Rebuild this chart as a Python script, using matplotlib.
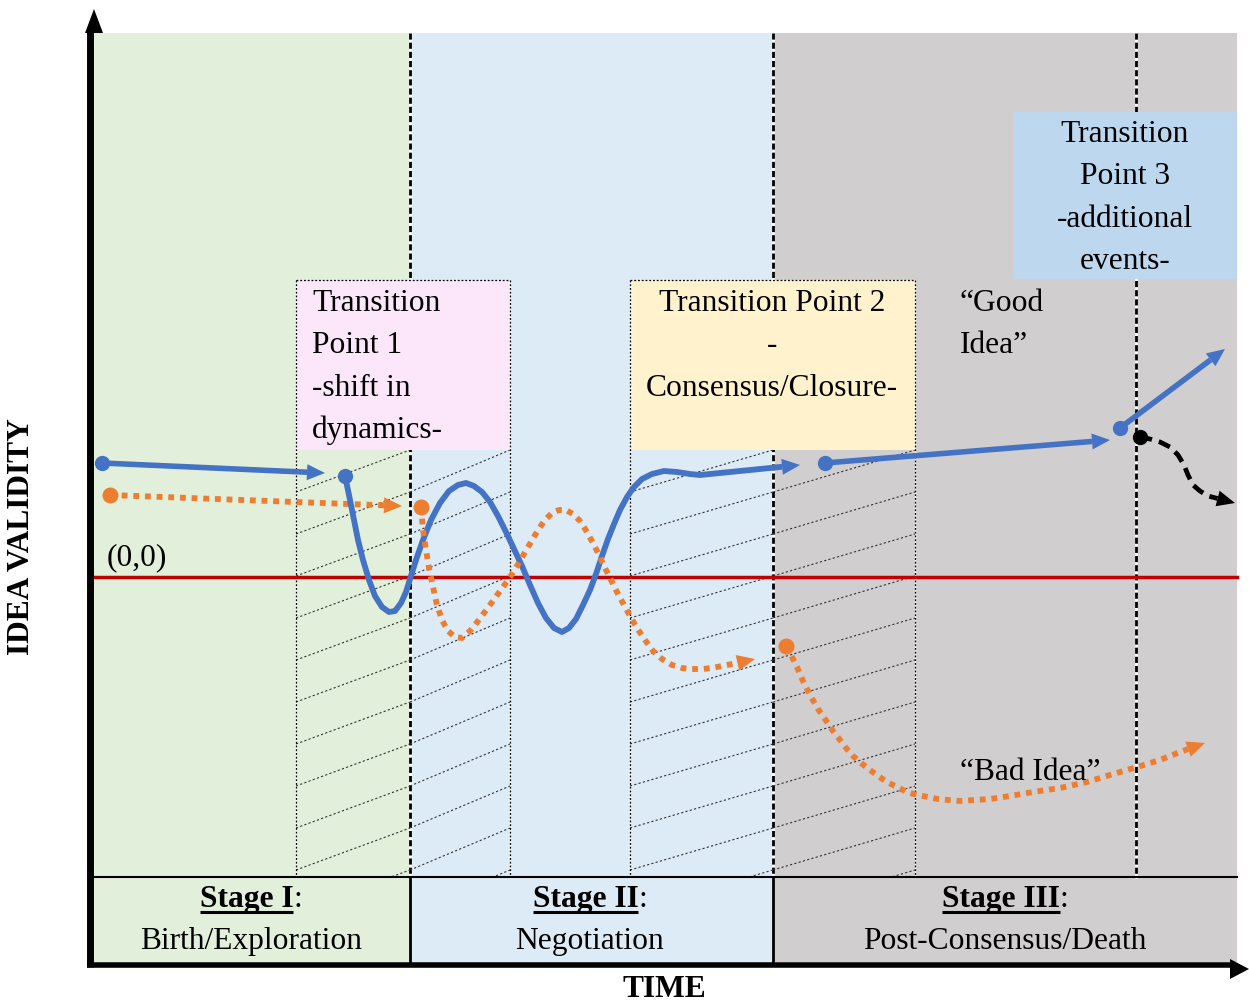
import matplotlib
matplotlib.use("Agg")
import matplotlib.pyplot as plt
from matplotlib.patches import Rectangle, Polygon
import numpy as np

# ---------------- data: (time, idea validity), origin (0,0) on the red baseline ----------------
lead_blue_t = [10, 233]
lead_blue_v = [114, 104]
lead_orange_t = [18, 310]
lead_orange_v = [82, 71]

wave_blue_t = [253, 257, 261, 266, 271, 277, 283, 290, 297, 303, 309, 314, 318, 324, 331, 339,
               348, 357, 366, 374, 382, 390, 398, 406, 414, 422, 430, 438, 446, 454, 462, 470,
               477, 484, 491, 498, 504, 510, 516, 522, 528, 535, 542, 550, 560, 572, 585, 598,
               608, 708]
wave_blue_v = [101, 82, 62, 37, 17, -3, -19, -30, -35, -34, -26, -15, -2, 17, 37, 57,
               74, 86, 92, 94, 91, 85, 75, 61, 45, 28, 11, -8, -26, -41, -51, -55,
               -51, -42, -28, -13, 3, 21, 38, 53, 67, 80, 90, 98, 103, 106, 105, 103,
               102, 112]

wave_orange_t = [329, 331, 334, 337, 341, 345, 350, 356, 363, 370, 378, 386, 395, 403, 411, 418,
                 425, 432, 439, 446, 453, 460, 467, 474, 481, 488, 495, 502, 508, 514, 520, 526,
                 532, 538, 545, 553, 561, 570, 580, 590, 600, 610, 620, 630, 640, 663]
wave_orange_v = [70, 47, 27, 9, -10, -28, -43, -54, -60, -61, -54, -44, -32, -21, -10, 0,
                 11, 23, 35, 47, 57, 64, 67, 67, 63, 56, 45, 32, 20, 7, -5, -17,
                 -28, -39, -51, -63, -74, -82, -88, -91, -92, -92, -91, -89, -87, -82]

good_t1 = [733, 1018]
good_v1 = [114, 137]
good_t2 = [1028, 1133]
good_v2 = [149, 228]

bad_t = [694, 700, 705, 711, 718, 726, 735, 741, 748, 754, 761, 769, 778, 786, 795, 805,
         815, 825, 836, 846, 856, 868, 883, 898, 918, 941, 968, 995, 1018, 1045, 1068, 1088, 1113]
bad_v = [-69, -80, -90, -104, -118, -132, -145, -154, -163, -171, -179, -186, -193, -199, -205, -210,
         -215, -218, -220, -222, -223, -224, -223, -222, -219, -215, -211, -205, -198, -190, -183, -175, -166]

extra_t = [1048, 1058, 1068, 1078, 1086, 1092, 1096, 1101, 1108, 1116, 1143]
extra_v = [140, 138, 135, 130, 122, 112, 102, 92, 86, 81, 74]

stage_titles = ["Stage I", "Stage II", "Stage III"]
stage_subs = ["Birth/Exploration", "Negotiation", "Post-Consensus/Death"]
tp1_lines = ["Transition", "Point 1", "-shift in", "dynamics-"]
tp2_lines = ["Transition Point 2", "-", "Consensus/Closure-"]
tp3_lines = ["Transition", "Point 3", "-additional", "events-"]

# ---------------- layout ----------------
W, H = 1249, 1002
OX, OY = 92, 577          # pixel position of the (0,0) origin


def X(px):
    return px - OX


def Y(py):
    return OY - py


BLUE = "#4472C4"
ORANGE = "#ED7D31"
RED = "#C00000"
FONT = "Liberation Serif"
FS = 22.7

fig = plt.figure(figsize=(W / 100, H / 100), dpi=100)
ax = fig.add_axes([0, 0, 1, 1])
ax.set_xlim(X(0), X(W))
ax.set_ylim(Y(H), Y(0))
ax.axis("off")


def rect(x0, y0, x1, y1, color, z, **kw):
    ax.add_patch(Rectangle((X(x0), Y(y1)), x1 - x0, y1 - y0, fc=color, ec="none", zorder=z, **kw))


# backgrounds
rect(92, 33, 410, 962, "#E2EFDA", 0)
rect(410, 33, 773, 962, "#DDEBF7", 0)
rect(773, 33, 1237, 962, "#D0CECE", 0)

# thick dashed stage dividers
for px in [410, 773, 1136]:
    ax.plot([X(px), X(px)], [Y(33), Y(877)], color="white", lw=2.0, zorder=1)
    ax.plot([X(px), X(px)], [Y(33), Y(877)], color="black", lw=2.0, ls=(0, (2.2, 1.1)), zorder=1.1)

# transition boxes
rect(296, 280, 510, 450, "#FCE6FA", 2)
rect(630, 280, 915, 450, "#FFF2CC", 2)
rect(1013, 112, 1237, 279, "#BDD7EE", 2)

# dotted outlines of hatch zones
for px in [296, 510, 630, 915]:
    ax.plot([X(px), X(px)], [Y(280), Y(877)], color="white", lw=0.9, zorder=3)
    ax.plot([X(px), X(px)], [Y(280), Y(877)], color="black", lw=0.9, ls=(0, (1.5, 1.5)), zorder=3.1)
for x0, x1 in [(296, 510), (630, 915)]:
    ax.plot([X(x0), X(x1)], [Y(280), Y(280)], color="black", lw=0.9, ls=(0, (1.5, 1.5)), zorder=3.1)

# hatch lines
for xl, xr in [(296, 410), (410, 510), (630, 773), (773, 915)]:
    clip = Rectangle((X(xl), Y(877)), xr - xl, 877 - 450, transform=ax.transData, fc="none", ec="none")
    ax.add_patch(clip)
    for k in range(1, 12):
        ln, = ax.plot([X(xl), X(xr)], [Y(450 + 42 * k), Y(408 + 42 * k)], color="#333333",
                      lw=0.8, ls=(0, (2, 2)), zorder=3)
        ln.set_clip_path(clip)

# bottom band borders
ax.plot([X(92), X(1237)], [Y(877), Y(877)], color="black", lw=1.5, zorder=4)
for px in [410, 773]:
    ax.plot([X(px), X(px)], [Y(877), Y(963)], color="black", lw=2.0, zorder=4)

# red baseline
ax.plot([X(92), X(1237)], [0, 0], color=RED, lw=2.5, zorder=4)


# ---------------- curves ----------------
def arrow_line(ts, vs, color, z=5, L=18, Wd=16, dot=True, dot_ms=11, **kw):
    ts = np.asarray(ts, float)
    vs = np.asarray(vs, float)
    tip = np.array([ts[-1], vs[-1]])
    prev = np.array([ts[-2], vs[-2]])
    d = tip - prev
    d /= np.hypot(*d)
    n = np.array([-d[1], d[0]])
    base = tip - L * d
    lt = np.r_[ts[:-1], base[0]]
    lv = np.r_[vs[:-1], base[1]]
    ax.plot(lt, lv, color=color, zorder=z, solid_capstyle="butt", solid_joinstyle="round", **kw)
    ax.add_patch(Polygon([tip, base + Wd / 2 * n, base - Wd / 2 * n], closed=True,
                         fc=color, ec="none", zorder=z + 0.1))
    if dot:
        ax.plot([ts[0]], [vs[0]], "o", color=color, ms=dot_ms, mec="none", zorder=z + 0.2)


DOTTED = dict(lw=4.2, ls=(0, (1.0, 1.0)), dash_capstyle="butt")
arrow_line(lead_blue_t, lead_blue_v, BLUE, lw=4.0)
arrow_line(lead_orange_t, lead_orange_v, ORANGE, dot_ms=11.5, **DOTTED)
arrow_line(wave_blue_t, wave_blue_v, BLUE, lw=4.2)
arrow_line(wave_orange_t, wave_orange_v, ORANGE, dot_ms=11.5, **DOTTED)
arrow_line(good_t1, good_v1, BLUE, lw=4.0)
arrow_line(good_t2, good_v2, BLUE, lw=4.0)
arrow_line(bad_t, bad_v, ORANGE, dot_ms=11.5, **DOTTED)
arrow_line(extra_t, extra_v, "black", dot_ms=11, lw=3.4, ls=(0, (2.6, 1.5)), dash_capstyle="butt")


# ---------------- texts ----------------
def txt(px, py, s, ha="left", **kw):
    return ax.text(X(px), Y(py), s, ha=ha, va="baseline", fontsize=FS, family=FONT, zorder=6, **kw)


for i, s in enumerate(tp1_lines):
    txt(312, 311 + 42.3 * i, s)
for i, s in enumerate(tp2_lines):
    txt(772, 311 + 42.3 * i, s, ha="center")
for i, s in enumerate(tp3_lines):
    txt(1125, 142 + 42.3 * i, s, ha="center")
txt(960, 311, "\u201cGood")
txt(960, 353, "Idea\u201d")
txt(960, 780, "\u201cBad Idea\u201d")
txt(107, 565, "(0,0)")

fig.canvas.draw()
renderer = fig.canvas.get_renderer()
for cx, title, sub in zip([251, 590, 1005], stage_titles, stage_subs):
    t1 = txt(cx, 907, title, weight="bold")
    t2 = txt(cx, 907, ":")
    w1 = t1.get_window_extent(renderer).width
    w2 = t2.get_window_extent(renderer).width
    left = X(cx) - (w1 + w2) / 2
    t1.set_position((left, Y(907)))
    t2.set_position((left + w1, Y(907)))
    ax.plot([left, left + w1], [Y(911.5), Y(911.5)], color="black", lw=2.2, zorder=6,
            solid_capstyle="butt")
    txt(cx, 949, sub, ha="center")

ax.text(X(664), Y(997), "TIME", ha="center", va="baseline", fontsize=FS, family=FONT,
        weight="bold", zorder=6)
ax.text(X(22), Y(537), "IDEA VALIDITY", ha="center", va="center", rotation=90, fontsize=FS,
        family=FONT, weight="bold", zorder=6)

# ---------------- axes arrows ----------------
ax.plot([X(90.5), X(90.5)], [Y(32), Y(967)], color="black", lw=5.0, solid_capstyle="butt", zorder=7)
ax.add_patch(Polygon([(X(94), Y(9)), (X(85), Y(33)), (X(103), Y(33))], closed=True,
                     fc="black", ec="none", zorder=7))
ax.plot([X(87), X(1232)], [Y(964.5), Y(964.5)], color="black", lw=4.0, solid_capstyle="butt", zorder=7)
ax.add_patch(Polygon([(X(1249), Y(969)), (X(1230), Y(959)), (X(1230), Y(979))], closed=True,
                     fc="black", ec="none", zorder=7))

fig.savefig("out.png", dpi=100)
